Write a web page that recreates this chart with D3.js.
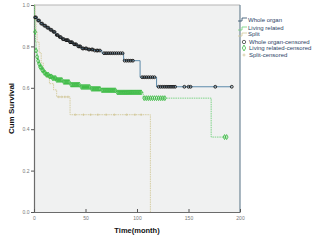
<!DOCTYPE html>
<html><head><meta charset="utf-8">
<script src="https://cdn.jsdelivr.net/npm/d3@7"></script>
<style>body{margin:0;background:#fff}svg{display:block}text{font-family:"Liberation Sans",Arial,sans-serif}</style>
</head><body><svg id="c" width="326" height="248"></svg>
<script>
// Step functions: [time, survival after step]
const wholeSteps = [[0,0.94],[3,0.925],[6,0.91],[9,0.90],[12,0.89],[15,0.88],[18,0.87],[21,0.855],[24,0.845],[27,0.835],[30,0.83],[34,0.82],[38,0.81],[42,0.80],[46,0.79],[52,0.785],[58,0.78],[66,0.767],[87,0.731],[103,0.651],[119,0.605]];
const wholeEnd = 192;
const wholeCens = [1,2,4,5,7,8,10,11,13,14,16,17,19,20,22,23,25,26,28,29,31,32,33,35,36,37,39,40,41,43,44,45,47,48,50,51,53,54,56,57,59,61,62,64,68,70,72,74,76,78,80,82,84,86,88,90,92,94,96,105,107,109,111,113,115,117,121,123,125,127,129,131,133,135,137,146,150,152,176,192];

const livingSteps = [[0,1.0],[0.5,0.93],[1,0.87],[1.5,0.82],[2,0.78],[3,0.75],[4,0.73],[5,0.715],[6,0.70],[8,0.685],[10,0.672],[12,0.663],[15,0.655],[18,0.647],[22,0.638],[28,0.628],[35,0.615],[45,0.604],[55,0.595],[65,0.588],[80,0.578],[106,0.55],[172,0.362]];
const livingEnd = 187;
const livingCens = [1,2,3,4,5,6,7,8,9,10,11,12,13,14,15,16,17,18,19,20,21,22,23,24,25,26,27,29,30,31,32,33,34,36,37,38,39,40,41,42,43,44,46,47,48,49,50,51,52,53,54,56,57,58,59,60,61,62,63,64,66,67,68,69,70,71,72,73,74,75,76,77,78,79,81,82,83,84,85,86,87,88,89,90,91,92,93,94,95,96,97,98,99,100,101,102,103,104,107,109,111,113,115,117,119,121,123,125,127,185,187];

const splitSteps = [[0,1.0],[1,0.93],[2,0.87],[3,0.82],[5,0.77],[7,0.72],[9,0.676],[12,0.65],[15,0.62],[19,0.59],[22,0.556],[35,0.47],[113,0]];
const splitEnd = 113;
const splitCens = [24,27,30,33,40,48,55,62,70,78,90,98,104];

const xTicks = [0,50,100,150,200];
const yTicks = [0,0.2,0.4,0.6,0.8,1.0];
const legendItems = ["Whole organ","Living related","Split","Whole organ-censored","Living related-censored","Split-censored"];

const svg = d3.select("#c");
const x = d3.scaleLinear().domain([0,200]).range([34,240]);
const y = d3.scaleLinear().domain([0,1]).range([212,5]);

// background
svg.append("rect").attr("x",x(0)).attr("y",y(1)).attr("width",x(200)-x(0)).attr("height",y(0)-y(1)).attr("fill","#f0f1f1");
svg.append("line").attr("x1",x(0)).attr("x2",x(200)).attr("y1",y(1)).attr("y2",y(1)).attr("stroke","#b5b5b5").attr("stroke-width",1.2);
svg.append("line").attr("x1",x(200)).attr("x2",x(200)).attr("y1",y(1)).attr("y2",y(0)).attr("stroke","#6f8797").attr("stroke-width",1.2);

// axes
const gy = svg.append("g").attr("transform",`translate(${x(0)},0)`)
  .call(d3.axisLeft(y).tickValues(yTicks).tickFormat(d3.format(".1f")).tickSize(3).tickPadding(1.5));
const gx = svg.append("g").attr("transform",`translate(0,${y(0)})`)
  .call(d3.axisBottom(x).tickValues(xTicks).tickFormat(d3.format("d")).tickSize(0).tickPadding(4));
gx.selectAll(".tick").append("line").attr("y1",0).attr("y2",-3).attr("stroke","#555");
[gx,gy].forEach(g=>{
  g.select(".domain").attr("stroke","#6b6b6b").attr("stroke-width",1.2);
  g.selectAll(".tick line").attr("stroke","#555");
  g.selectAll("text").attr("fill","#777").style("font-size","5px");
});

function stepPath(steps,end){
  const pts=[];
  steps.forEach((s,i)=>{
    if(i>0) pts.push([s[0],steps[i-1][1]]);
    pts.push([s[0],s[1]]);
  });
  pts.push([end,steps[steps.length-1][1]]);
  return d3.line().x(d=>x(d[0])).y(d=>y(d[1]))(pts);
}
function survAt(steps,t){
  let v=steps[0][1];
  for(const s of steps){ if(s[0]<=t) v=s[1]; }
  return v;
}

// Split
svg.append("path").attr("d",stepPath(splitSteps,splitEnd)).attr("fill","none").attr("stroke","#d2c99a").attr("stroke-width",0.9).attr("stroke-dasharray","1.5,0.8");
svg.append("g").selectAll("path").data(splitCens).join("path")
  .attr("d",t=>`M${x(t)-1.3},${y(survAt(splitSteps,t))}h2.6M${x(t)},${y(survAt(splitSteps,t))-1.3}v2.6`)
  .attr("stroke","#cfc392").attr("stroke-width",0.6);

// Living related
svg.append("path").attr("d",stepPath(livingSteps,livingEnd)).attr("fill","none").attr("stroke","#6fd07a").attr("stroke-width",0.9).attr("stroke-dasharray","1.5,0.8");
svg.append("g").selectAll("path").data(livingCens).join("path")
  .attr("d",d3.symbol(d3.symbolDiamond,7))
  .attr("transform",t=>`translate(${x(t)},${y(survAt(livingSteps,t))})`)
  .attr("fill","none").attr("stroke","#3dbb45").attr("stroke-width",0.9);

// Whole organ
svg.append("path").attr("d",stepPath(wholeSteps,wholeEnd)).attr("fill","none").attr("stroke","#4d7fa3").attr("stroke-width",0.9);
svg.append("g").selectAll("circle").data(wholeCens).join("circle")
  .attr("cx",t=>x(t)).attr("cy",t=>y(survAt(wholeSteps,t))).attr("r",1.4)
  .attr("fill","none").attr("stroke","#111").attr("stroke-width",0.9);

// Axis titles
svg.append("text").attr("transform",`translate(14,${(y(0)+y(1))/2}) rotate(-90)`).attr("text-anchor","middle")
  .style("font-size","8px").style("font-weight","bold").attr("fill","#111").text("Cum Survival");
svg.append("text").attr("x",137).attr("y",233).attr("text-anchor","middle")
  .style("font-size","7.5px").style("font-weight","bold").attr("fill","#111").text("Time(month)");

// Legend
const lg = svg.append("g");
const ly = [20,28,34,42,48,55];
legendItems.forEach((s,i)=>{
  lg.append("text").attr("x",i<3?248:249).attr("y",ly[i]+2).style("font-size","6px").attr("fill","#2a3f66").text(s);
});
lg.append("path").attr("d","M238,21H242V18H247").attr("fill","none").attr("stroke","#2a4a66").attr("stroke-width",0.8);
lg.append("path").attr("d","M238,30H242V27H247").attr("fill","none").attr("stroke","#6fd07a").attr("stroke-width",0.8);
lg.append("path").attr("d","M238,36H242V33H247").attr("fill","none").attr("stroke","#d2c99a").attr("stroke-width",0.8);
lg.append("circle").attr("cx",244).attr("cy",42).attr("r",1.7).attr("fill","none").attr("stroke","#444").attr("stroke-width",0.8);
lg.append("path").attr("d",d3.symbol(d3.symbolDiamond,10)).attr("transform","translate(244,48)").attr("fill","none").attr("stroke","#3dbb45").attr("stroke-width",0.8);
lg.append("path").attr("d","M242.5,55h3M244,53.5v3").attr("stroke","#cfc392").attr("stroke-width",0.7);
</script></body></html>
